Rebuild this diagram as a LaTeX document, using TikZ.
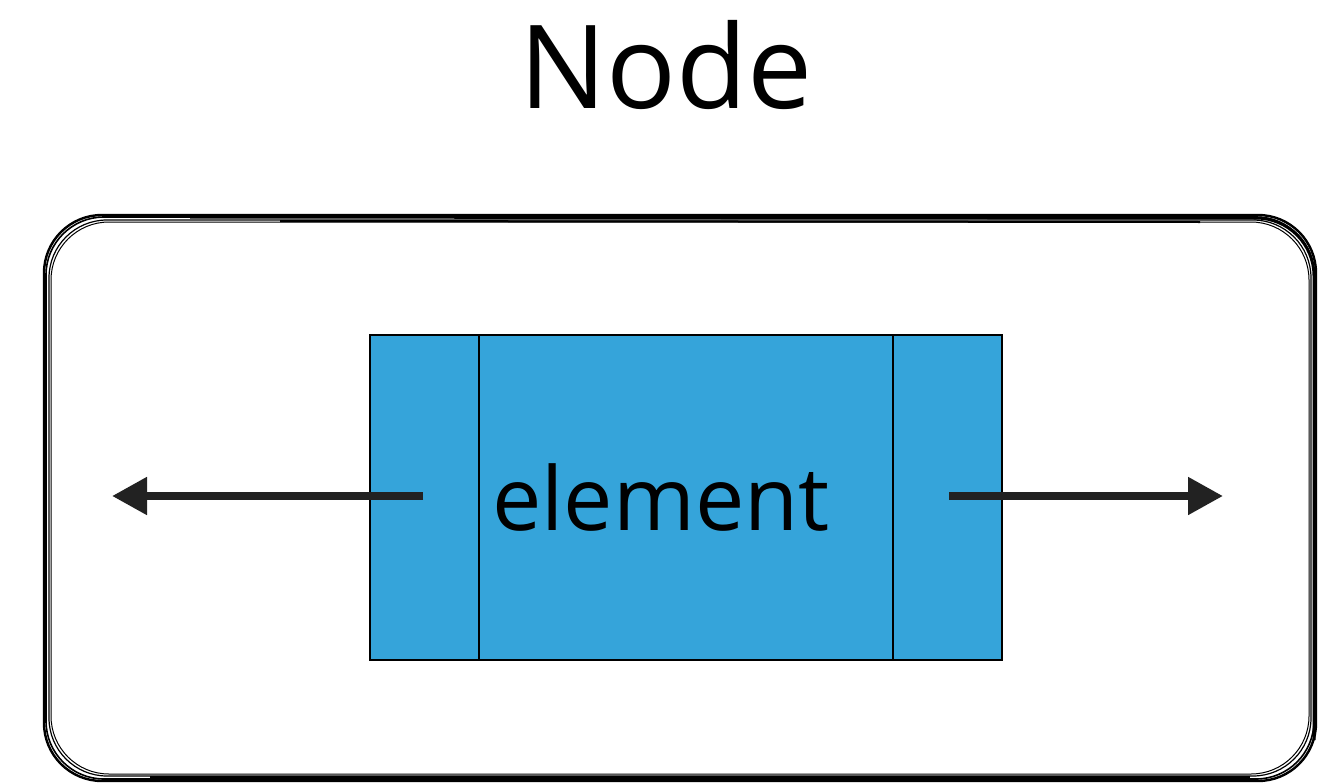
\documentclass[tikz,border=0pt]{standalone}
\usepackage{fontspec}
\setmainfont{Open Sans}
\usetikzlibrary{arrows.meta}
\definecolor{boxblue}{HTML}{35A4DA}
\definecolor{arrowgray}{HTML}{222222}
\tikzset{
  sketch/.style={draw=black, rounded corners=58pt},
  cell/.style={draw=black, line width=2pt, fill=boxblue, minimum height=325pt, inner sep=0pt},
  ptr/.style={draw=arrowgray, line width=8pt, -{Triangle[length=35pt,width=36pt]}},
}
\begin{document}
\begin{tikzpicture}[x=1pt,y=-1pt]
\useasboundingbox (0,0) rectangle (1322,784);
% sketchy outer container
\draw[sketch, line width=1.6pt] (46,217) rectangle (1314,779);
\draw[sketch, line width=1.2pt] (49,220) rectangle (1311,776);
\draw[sketch, line width=2.4pt] (44,215) rectangle (1316,781);
\draw[sketch, line width=1.0pt] (51,222) rectangle (1309,774);
\draw[line width=3pt] (190,217) -- (1256,218) arc[start angle=-90,end angle=0,radius=58] -- (1314,740);
\draw[line width=2pt] (280,221) -- (1200,222);
\draw[line width=2pt] (150,777) -- (1250,777);
% title
\node[anchor=base, font=\fontsize{116}{130}\selectfont] (title) at (666,108) {Node};
% cells
\node[cell, minimum width=109pt, anchor=north west] (prev) at (369,334) {};
\node[cell, minimum width=414pt, anchor=north west] (elem) at (478,334) {};
\node[cell, minimum width=109pt, anchor=north west] (next) at (892,334) {};
\node[anchor=base, font=\fontsize{88}{100}\selectfont, inner sep=0pt] (label) at (661,530) {element};
% pointers
\coordinate (ls) at (423,496);
\coordinate (lt) at (112,496);
\coordinate (rs) at (949,496);
\coordinate (rt) at (1223,496);
\draw[ptr] (ls) -- (lt);
\draw[ptr] (rs) -- (rt);
\end{tikzpicture}
\end{document}
